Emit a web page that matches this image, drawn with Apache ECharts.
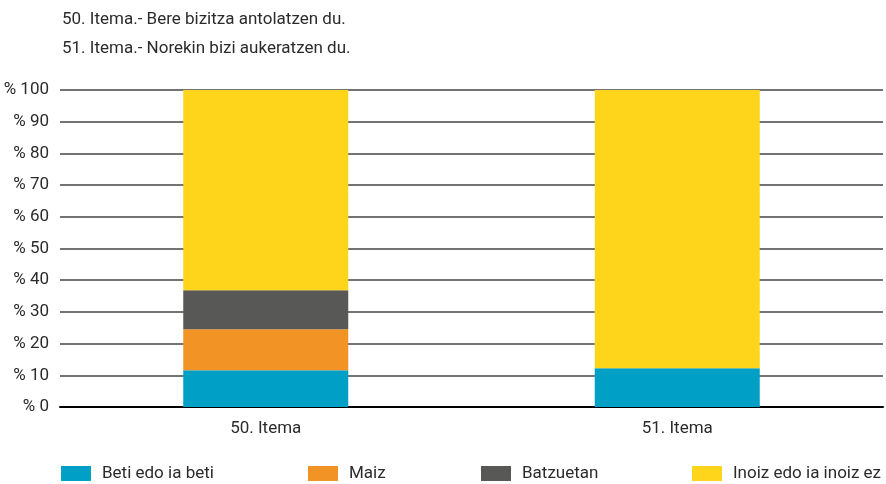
<!DOCTYPE html>
<html>
<head>
<meta charset="utf-8">
<script src="https://cdn.jsdelivr.net/npm/echarts@6/dist/echarts.min.js"></script>
<style>
    html, body { margin: 0; padding: 0; background: #fff; }
    #chartDiv { width: 886px; height: 484px; }
</style>
</head>
<body>
<div id="chartDiv"></div>
<script>
    // datuak
    var categories = ['50. Itema', '51. Itema'];
    var seriesNames = ['Beti edo ia beti', 'Maiz', 'Batzuetan', 'Inoiz edo ia inoiz ez'];
    var betiValues = [11.6, 12.2];
    var maizValues = [12.9, 0];
    var batzuetanValues = [12.3, 0];
    var inoizValues = [63.2, 87.8];
    var titleLines = ['50. Itema.- Bere bizitza antolatzen du.', '51. Itema.- Norekin bizi aukeratzen du.'];

    var colors = ['#009fc6', '#f29325', '#585857', '#fed51a'];
    var font = 'Roboto, "Liberation Sans", sans-serif';
    var textColor = '#2b2b2b';
    var fontSize = 17;

    var chart = echarts.init(document.getElementById('chartDiv'));

    var values = [betiValues, maizValues, batzuetanValues, inoizValues];
    var series = seriesNames.map(function (name, i) {
        return {
            name: name,
            type: 'bar',
            stack: 'total',
            barWidth: 165,
            itemStyle: { color: colors[i] },
            data: values[i]
        };
    });

    // legenda bakoitza bere lekuan
    var legendLeft = [61, 308, 481, 692];
    var legends = seriesNames.map(function (name, i) {
        return {
            data: [name],
            left: legendLeft[i],
            top: 465,
            padding: 0,
            itemWidth: 30,
            itemHeight: 15,
            itemGap: 10,
            icon: 'rect',
            textStyle: { fontFamily: font, fontSize: fontSize, color: textColor, padding: [0, 0, 0, 6] }
        };
    });

    chart.setOption({
        animation: false,
        textStyle: { fontFamily: font },
        title: {
            text: titleLines.join('\n'),
            left: 57,
            top: 0,
            textStyle: { fontFamily: font, fontSize: fontSize, fontWeight: 'normal', color: textColor, lineHeight: 29 }
        },
        legend: legends,
        grid: { left: 60, right: 3, top: 90, bottom: 77 },
        xAxis: {
            type: 'category',
            data: categories,
            axisTick: { show: false },
            axisLine: { lineStyle: { color: '#000', width: 2 } },
            axisLabel: { fontFamily: font, fontSize: fontSize, color: textColor, margin: 13 }
        },
        yAxis: {
            type: 'value',
            min: 0,
            max: 100,
            interval: 10,
            axisLabel: {
                fontFamily: font, fontSize: fontSize, color: textColor, margin: 11,
                formatter: function (v) { return '% ' + v; }
            },
            splitLine: { lineStyle: { color: '#444', width: 1.5 } }
        },
        series: series
    });
</script>
</body>
</html>
